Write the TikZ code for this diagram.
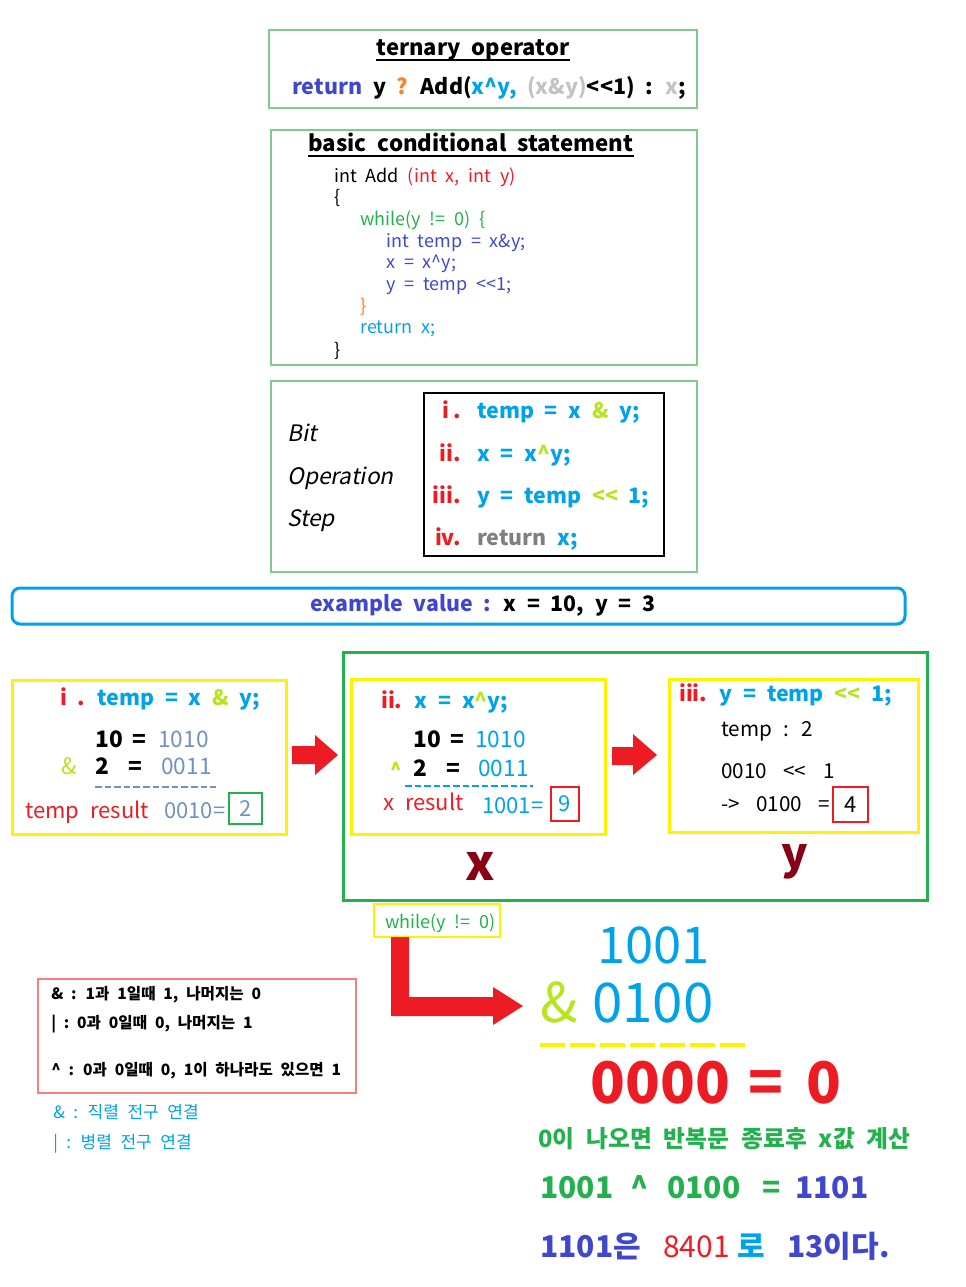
\documentclass[tikz,border=0pt]{standalone}
\usepackage{fontspec}
\setmainfont{Noto Sans CJK KR}[WordSpace=2.2]
\newfontfamily\slfont[FakeSlant=0.2]{Noto Sans CJK KR}
\usetikzlibrary{fit}
\definecolor{pblue}{HTML}{3F48CC}
\definecolor{pcyan}{HTML}{00A2E8}
\definecolor{pgreen}{HTML}{22B14C}
\definecolor{plime}{HTML}{B5E61D}
\definecolor{pred}{HTML}{ED1C24}
\definecolor{pdark}{HTML}{880015}
\definecolor{pyellow}{HTML}{FFF200}
\definecolor{porange}{HTML}{FF7F27}
\definecolor{plgray}{HTML}{C3C3C3}
\definecolor{pgray}{HTML}{7F7F7F}
\definecolor{pbgray}{HTML}{7092BE}
\definecolor{lgreen}{HTML}{7FCA8C}
\definecolor{lred}{HTML}{F58080}
\newcommand\fsz[1]{\fontsize{#1}{#1}\selectfont}
\newcommand\caret{\char"5E\relax}
\begin{document}
\begin{tikzpicture}[x=0.75pt,y=-0.75pt,
  txt/.style={inner sep=0pt,anchor=base west},
  ctxt/.style={inner sep=0pt,anchor=base},
  frame/.style={inner sep=0pt,draw=lgreen,line width=0.9pt},
  ybox/.style={inner sep=0pt,draw=pyellow,line width=2.25pt},
  numbox/.style={inner sep=0pt,line width=1.8pt},
  blockarrow/.style={fill=pred,draw=none}]
\useasboundingbox (0,0) rectangle (966,1287);

% ternary operator
\node[frame,fit={(269,30)(697,108)}] (tern) {};
\node[ctxt,font=\fsz{16.5}\bfseries] (terntitle) at (473,56) {ternary operator};
\draw[line width=1.5pt] ([yshift=-3pt]terntitle.base west) -- ([yshift=-3pt]terntitle.base east);
\node[txt,font=\fsz{16.1}\bfseries] (ternline) at (292,95) {\textcolor{pblue}{return} y \textcolor{porange}{?} Add(\textcolor{pcyan}{x\caret y,} \textcolor{plgray}{(x\&y)}<{}<1) : \textcolor{plgray}{x};};

% basic conditional statement
\node[frame,fit={(271,130)(697,365)}] (codebox) {};
\node[txt,font=\fsz{16.7}\bfseries] (codetitle) at (308,152) {basic conditional statement};
\draw[line width=1.5pt] ([yshift=-3pt]codetitle.base west) -- ([yshift=-3pt]codetitle.base east);
\begin{scope}[every node/.style={inner sep=0pt,anchor=base west,font=\fsz{13.5}}]
\node (c1) at (334,183) {int Add \textcolor{pred}{(int x, int y)}};
\node (c2) at (334,204) {\{};
\node[text=pgreen] (c3) at (360,226) {while(y != 0) \{};
\node[text=pblue] (c4) at (386,248) {int temp = x\&y;};
\node[text=pblue] (c5) at (386,269) {x = x\caret y;};
\node[text=pblue] (c6) at (386,291) {y = temp <{}<1;};
\node[text=porange] (c7) at (360,312) {\}};
\node[text=pcyan] (c8) at (360,334) {return x;};
\node (c9) at (334,356) {\}};
\end{scope}

% bit operation step
\node[frame,fit={(271,381)(697,572)}] (bitbox) {};
\node[txt,font=\fsz{17}\slfont] (bit) at (287,441) {Bit};
\node[txt,font=\fsz{17}\slfont] (oper) at (287,484) {Operation};
\node[txt,font=\fsz{17}\slfont] (stp) at (287,526) {Step};
\node[draw=black,line width=1.5pt,inner sep=0pt,fit={(424,393)(664,556)}] (stepbox) {};
\begin{scope}[every node/.style={inner sep=0pt,font=\fsz{16}\bfseries}]
\node[anchor=base east,text=pred] (r1) at (461,418) {i\,.};
\node[anchor=base east,text=pred] (r2) at (461,461) {ii.};
\node[anchor=base east,text=pred] (r3) at (461,503) {iii.};
\node[anchor=base east,text=pred] (r4) at (461,545) {iv.};
\node[anchor=base west,text=pcyan] (l1) at (477,418) {temp = x \textcolor{plime}{\&} y;};
\node[anchor=base west,text=pcyan] (l2) at (477,461) {x = x\textcolor{plime}{\caret}y;};
\node[anchor=base west,text=pcyan] (l3) at (477,503) {y = temp \textcolor{plime}{<{}<} 1;};
\node[anchor=base west,text=pcyan] (l4) at (477,545) {\textcolor{pgray}{return} x;};
\end{scope}

% example value
\node[draw=pcyan,line width=2.25pt,rounded corners=6pt,inner sep=0pt,fit={(12,588)(905,624)}] (exbox) {};
\node[ctxt,font=\fsz{16}\bfseries] (ex) at (483,611) {\textcolor{pblue}{example value :} x = 10, y = 3};

% step i
\node[ybox,fit={(12,680)(286,834)}] (s1) {};
\node[txt,font=\fsz{16}\bfseries] (s1t) at (60,705) {\textcolor{pred}{i .} \textcolor{pcyan}{temp = x} \textcolor{plime}{\&} \textcolor{pcyan}{y;}};
\node[txt,font=\fsz{17}\bfseries] (s1a) at (95,747) {10};
\node[txt,font=\fsz{17}\bfseries] (s1eq) at (132,747) {=};
\node[txt,font=\fsz{17},text=pbgray] (s1b) at (158,747) {1010};
\node[txt,font=\fsz{17},text=plime] (s1amp) at (61,774) {\&};
\node[txt,font=\fsz{17}\bfseries] (s1c) at (95,774) {2};
\node[txt,font=\fsz{17}\bfseries] (s1eq2) at (128,774) {=};
\node[txt,font=\fsz{17},text=pbgray] (s1d) at (161,774) {0011};
\draw[pbgray,line width=1.5pt,dash pattern=on 5pt off 2.2pt] (s1a.base west |- 0,787) -- (216,787);
\node[txt,font=\fsz{16.5},text=pred] (s1r) at (25,818) {temp result};
\node[txt,font=\fsz{16.5},text=pbgray] (s1v) at (164,818) {0010=};
\node[draw=pgreen,numbox,fit={(229,793)(262,824)}] (s1box) {};
\node[inner sep=0pt,font=\fsz{16.5},text=pbgray] (s1n) at (s1box.center) {2};

% arrow 1
\fill[blockarrow] (292,746) -- (315,746) -- (315,735) -- (338,755) -- (315,775) -- (315,764) -- (292,764) -- cycle;

% big loop box
\node[draw=pgreen,line width=2.25pt,inner sep=0pt,fit={(343,652)(927,900)}] (loop) {};

% step ii
\node[ybox,fit={(351,679)(605,834)}] (s2) {};
\node[txt,font=\fsz{16}\bfseries] (s2t) at (381,708) {\textcolor{pred}{ii.} \textcolor{pcyan}{x = x\textcolor{plime}{\caret}y;}};
\node[txt,font=\fsz{17}\bfseries] (s2a) at (413,747) {10};
\node[txt,font=\fsz{17}\bfseries] (s2eq) at (450,747) {=};
\node[txt,font=\fsz{17},text=pcyan] (s2b) at (475,747) {1010};
\node[txt,font=\fsz{14}\bfseries,text=plime] (s2op) at (390,776) {\caret};
\node[txt,font=\fsz{17}\bfseries] (s2c) at (413,776) {2};
\node[txt,font=\fsz{17}\bfseries] (s2eq2) at (446,776) {=};
\node[txt,font=\fsz{17},text=pcyan] (s2d) at (478,776) {0011};
\draw[pcyan,line width=1.5pt,dash pattern=on 5pt off 2.2pt] (405,786) -- (533,786);
\node[txt,font=\fsz{16.5},text=pred] (s2r) at (383,810) {x result};
\node[txt,font=\fsz{16.5},text=pcyan] (s2v) at (482,813) {1001=};
\node[draw=pred,numbox,fit={(551,787)(579,821)}] (s2box) {};
\node[inner sep=0pt,font=\fsz{16.5},text=pcyan] (s2n) at (s2box.center) {9};
\node[ctxt,font=\fsz{37}\bfseries,text=pdark] (bigx) at (480,880) {x};

% arrow 2
\fill[blockarrow] (612,747) -- (633,747) -- (633,734) -- (657,755) -- (633,775) -- (633,765) -- (612,765) -- cycle;

% step iii
\node[ybox,fit={(669,679)(918,832)}] (s3) {};
\node[txt,font=\fsz{16}\bfseries] (s3t) at (679,701) {\textcolor{pred}{iii.} \textcolor{pcyan}{y = temp} \textcolor{plime}{<{}<} \textcolor{pcyan}{1;}};
\begin{scope}[every node/.style={inner sep=0pt,anchor=base west,font=\fsz{15.5}}]
\node (s3a1) at (721,736) {temp};
\node (s3a2) at (783,736) {:};
\node (s3a3) at (801,736) {2};
\node (s3b1) at (721,778) {0010};
\node (s3b2) at (783,778) {<{}<};
\node (s3b3) at (823,778) {1};
\node (s3c1) at (721,811) {->};
\node (s3c2) at (756,811) {0100};
\node (s3c3) at (818,811) {=};
\end{scope}
\node[draw=pred,numbox,fit={(833,787)(868,822)}] (s3box) {};
\node[inner sep=0pt,font=\fsz{16.5}] (s3n) at (s3box.center) {4};
\node[ctxt,font=\fsz{33}\bfseries,text=pdark] (bigy) at (795,869) {y};

% while
\node[draw=pyellow,line width=0.8pt,inner sep=0pt,fit={(374,904)(500,937)}] (wbox) {};
\node[txt,font=\fsz{13.5},text=pgreen] (wtxt) at (385,928) {while(y != 0)};
\fill[blockarrow] (391,937) -- (409,937) -- (409,997) -- (493,997) -- (493,987) -- (523,1006) -- (493,1025) -- (493,1016) -- (391,1016) -- cycle;

% legend
\node[draw=lred,line width=0.9pt,inner sep=0pt,fit={(38,979)(356,1093)}] (leg) {};
\begin{scope}[every node/.style={inner sep=0pt,anchor=base west,font=\fsz{11.7}\bfseries}]
\node (g1) at (51,999) {\& : 1과 1일때 1, 나머지는 0};
\node (g2) at (51,1028) {| :\enspace 0과 0일때 0, 나머지는 1};
\node (g3) at (51,1075) {\caret\ : 0과 0일때 0, 1이 하나라도 있으면 1};
\end{scope}
\begin{scope}[every node/.style={inner sep=0pt,anchor=base west,font=\fsz{12.8},text=pcyan}]
\node (b1) at (53,1118) {\& : 직렬 전구 연결};
\node (b2) at (53,1148) {| : 병렬 전구 연결};
\end{scope}

% big calculation
\node[txt,font=\fsz{38},text=pcyan] (n1001) at (597,963) {1001};
\node[txt,font=\fsz{41},text=plime] (amp) at (540,1022) {\&};
\node[txt,font=\fsz{41},text=pcyan] (n0100) at (592,1022) {0100};
\draw[pyellow,line width=3pt,dash pattern=on 18.75pt off 3.75pt] (540,1045) -- (745,1045);
\node[txt,font=\fsz{43}\bfseries,text=pred] (zero) at (590,1103) {0000};
\node[txt,font=\fsz{43}\bfseries,text=pred] (zeq) at (748,1103) {=};
\node[txt,font=\fsz{43}\bfseries,text=pred] (zres) at (806,1103) {0};

\node[txt,font=\fsz{17.8}\bfseries,text=pgreen] (note) at (538,1147) {0이 나오면 반복문 종료후 x값 계산};
\begin{scope}[every node/.style={inner sep=0pt,anchor=base west,font=\fsz{22.5}\bfseries}]
\node[text=pgreen] (x1) at (540,1198) {1001};
\node[text=pgreen] (x2) at (630,1198) {\caret};
\node[text=pgreen] (x3) at (667,1198) {0100};
\node[text=pgreen] (x4) at (762,1198) {=};
\node[text=pblue] (x5) at (795,1198) {1101};
\node[text=pblue] (y1) at (540,1257) {1101은};
\node[text=pred,font=\fsz{22.5}] (y2) at (663,1257) {8401};
\node[text=pcyan] (y3) at (737,1257) {로};
\node[text=pblue] (y4) at (787,1257) {13이다.};
\end{scope}
\end{tikzpicture}
\end{document}
